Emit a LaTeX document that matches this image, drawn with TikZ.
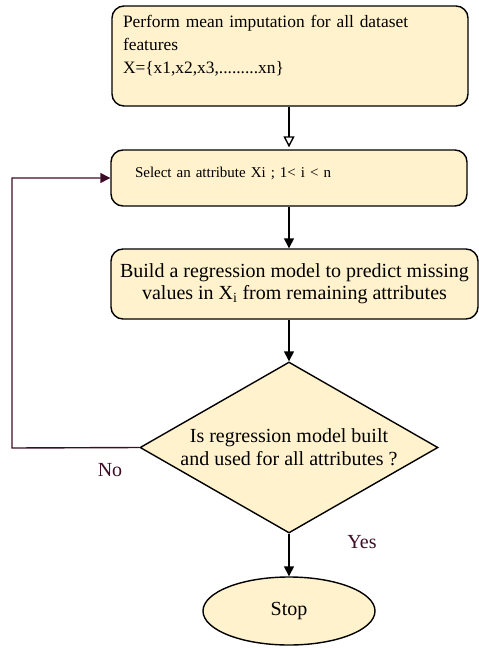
\documentclass[tikz,border=0pt]{standalone}
\usepackage{fontspec}
\setmainfont{Liberation Serif}
\usepackage{tikz}
\usetikzlibrary{calc,shapes.geometric,arrows.meta}
\definecolor{boxfill}{HTML}{FFF2CC}
\definecolor{loopcol}{HTML}{3D0C26}
\def\flowarrow{\draw[line width=1.4pt,-{Triangle[length=10pt,width=10pt]}]}
\def\stepnode{\node[draw=black,line width=1.4pt,fill=boxfill,rounded corners=12pt]}

\begin{document}
\begin{tikzpicture}[x=1pt,y=-1pt,inner sep=0pt]
\useasboundingbox (0,0) rectangle (479,648);

% ---------- the steps
\stepnode[minimum width=356pt,minimum height=100pt,text width=334pt,align=left,
  font=\fontsize{17.4pt}{23pt}\selectfont]
  (impute) at (290,56)
  {Perform mean imputation for all dataset\\features\\X=\{x1,x2,x3,.........xn\}\\\mbox{}};
\stepnode[minimum width=356pt,minimum height=56pt,text width=308pt,align=left,
  font=\fontsize{15pt}{19pt}\selectfont,text depth=12pt]
  (select) at (289,178) {Select an attribute Xi ; 1< i < n};
\stepnode[minimum width=367pt,minimum height=70pt,align=center,
  font=\fontsize{20pt}{22pt}\selectfont]
  (build) at (294.5,284)
  {Build a regression model to predict missing\\values in X\textsubscript{i} from remaining attributes};

% decision and end
\node[diamond,aspect=1.74,draw=black,line width=1.4pt,fill=boxfill,minimum width=298pt,
  minimum height=171pt,align=center,font=\fontsize{20pt}{23pt}\selectfont]
  (done) at (289,447.5) {Is regression model built\\and used for all attributes ?};
\node[ellipse,draw=black,line width=1.4pt,fill=boxfill,minimum width=172pt,
  minimum height=68pt,font=\fontsize{20pt}{22pt}\selectfont]
  (stop) at (289,611) {Stop};

% ---------- connectors (all on the x of the select step)
\coordinate (trunk_top) at (select.north |- impute.south);
\draw[line width=1.4pt,-{Triangle[open,fill=white,length=11pt,width=11pt]}]
  (trunk_top) -- ($ (select.north) + (0,-2) $);
\flowarrow (select.south) -- (select.south |- build.north);
\flowarrow (done.north |- build.south) -- (done.north);
\flowarrow (done.south) -- (stop.north);

% the No loop back to the select step
\coordinate (corner_low) at (12,448);
\coordinate (corner_high) at (12,178);
\draw[loopcol,line width=1.4pt,-{Triangle[length=10pt,width=10pt]}]
  (done.west) -- (corner_low) -- (corner_high) -- (select.west);
\node[text=loopcol,font=\fontsize{20pt}{22pt}\selectfont] (no) at (110,470) {No};
\node[text=loopcol,font=\fontsize{20pt}{22pt}\selectfont] (yes) at (362,542) {Yes};
\end{tikzpicture}
\end{document}
